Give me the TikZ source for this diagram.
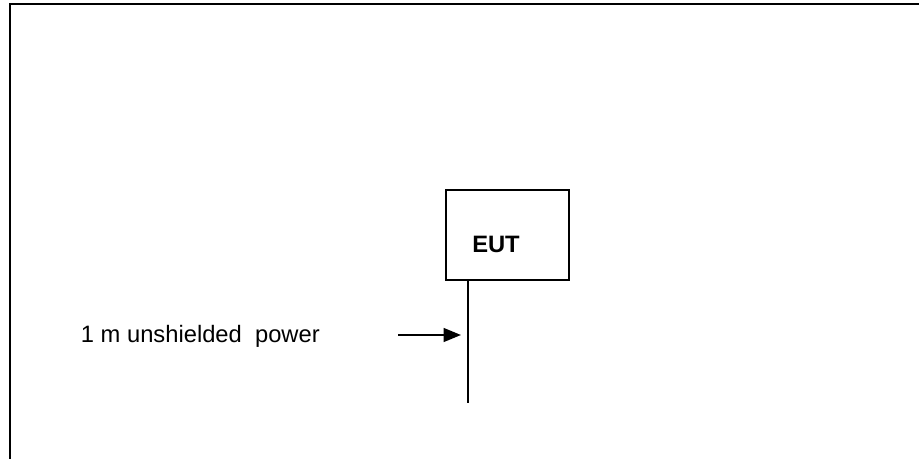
\documentclass[tikz,border=0pt]{standalone}
\usepackage{fontspec}
\setmainfont{Liberation Sans}
\usetikzlibrary{arrows.meta}
\begin{document}
\begin{tikzpicture}[x=0.75pt,y=-0.75pt]
			% Styles
			\tikzstyle{cadre}=[line width=1.5pt]
			\tikzstyle{boite}=[draw,line width=1.4pt,minimum width=92.25pt,minimum height=67.5pt,inner sep=0pt]
			\tikzstyle{cable}=[line width=1.4pt]
			\tikzstyle{fleche}=[line width=1.5pt,-{Triangle[length=13pt,width=10.3pt]}]
			\tikzstyle{texte}=[font=\fontsize{17.8}{20}\selectfont]
			% Dimensions
			\def\CableX{468.3}
			\def\FlecheY{335}
			\useasboundingbox (0,0) rectangle (919,459);
			% Cadre
			\coordinate (coinHD) at (919,4);
			\coordinate (coinHG) at (9.5,4);
			\coordinate (coinBG) at (9.5,459);
			\draw[cadre] (coinHD)--(coinHG)--(coinBG);
			% Noeuds
			\node[boite] (eut) at (507.5,235) {};
			\node[texte,font=\fontsize{17.8}{20}\selectfont\bfseries] (eutTexte) at (496,244) {EUT};
			\coordinate (cableBas) at ({\CableX},403);
			\coordinate (flecheDebut) at (398,{\FlecheY});
			\coordinate (flecheFin) at (461,{\FlecheY});
			\node[texte,anchor=west,inner sep=0pt] (legende) at (80.7,336) {1 m unshielded\ \ power};
			% Arcs
			\draw[cable] (eut.south -| cableBas)--(cableBas);
			\draw[fleche] (flecheDebut)--(flecheFin);
		\end{tikzpicture}
\end{document}
